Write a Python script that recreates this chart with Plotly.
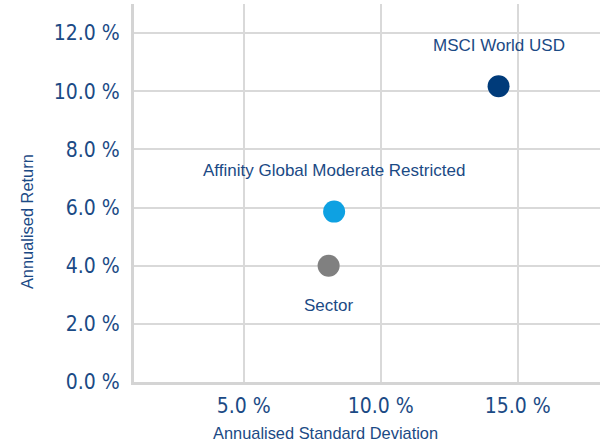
import plotly.graph_objects as go

names = ["MSCI World USD", "Affinity Global Moderate Restricted", "Sector"]
std_dev = [14.3, 8.3, 8.1]
returns = [10.17, 5.86, 4.0]
colors = ["#003b7a", "#0ea1e2", "#808080"]
label_pos = ["above", "above", "below"]

x_ticks = [5, 10, 15]
y_ticks = [0, 2, 4, 6, 8, 10, 12]

x_title = "Annualised Standard Deviation"
y_title = "Annualised Return"

txt_color = "#1b4a85"
lab_font = "Liberation Sans"
tick_font = "DejaVu Sans Condensed"

fig = go.Figure()
for n, x, y, c in zip(names, std_dev, returns, colors):
    fig.add_trace(go.Scatter(x=[x], y=[y], mode="markers", name=n,
                             marker=dict(size=22, color=c, line=dict(width=0)),
                             showlegend=False, hoverinfo="skip"))

for n, x, y, p in zip(names, std_dev, returns, label_pos):
    fig.add_annotation(x=x, y=y, text=n, showarrow=False,
                       yshift=41 if p == "above" else -40,
                       font=dict(family=lab_font, size=17, color=txt_color))

fig.add_annotation(xref="paper", yref="paper", x=0.41, y=-0.135, text=x_title,
                   showarrow=False, xanchor="center", yanchor="middle",
                   font=dict(family=lab_font, size=16.4, color=txt_color))
fig.add_annotation(xref="paper", yref="paper", x=-0.2296, y=0.423, text=y_title,
                   showarrow=False, xanchor="center", yanchor="middle", textangle=-90,
                   font=dict(family=lab_font, size=16.4, color=txt_color))

fig.update_layout(
    width=614, height=442,
    margin=dict(l=134, r=14, t=4, b=60),
    paper_bgcolor="white", plot_bgcolor="white",
    xaxis=dict(range=[1, 18], tickvals=x_ticks, automargin=False,
               ticktext=[f"{v:.1f} %" for v in x_ticks],
               showgrid=True, gridcolor="#d9d9d9", gridwidth=2,
               showline=True, linecolor="#d4d4d4", linewidth=3,
               zeroline=False, ticks="", ticklabelstandoff=3,
               tickfont=dict(family=tick_font, size=21, color=txt_color)),
    yaxis=dict(range=[0, 13], tickvals=y_ticks, automargin=False,
               ticktext=[f"{v:.1f} %" for v in y_ticks],
               showgrid=True, gridcolor="#d9d9d9", gridwidth=2,
               showline=True, linecolor="#d4d4d4", linewidth=3,
               zeroline=False, ticks="", ticklabelstandoff=7,
               tickfont=dict(family=tick_font, size=21, color=txt_color)),
)

fig.write_html("out.html", post_script="document.body.style.margin='0';",
               config={"displayModeBar": False})
